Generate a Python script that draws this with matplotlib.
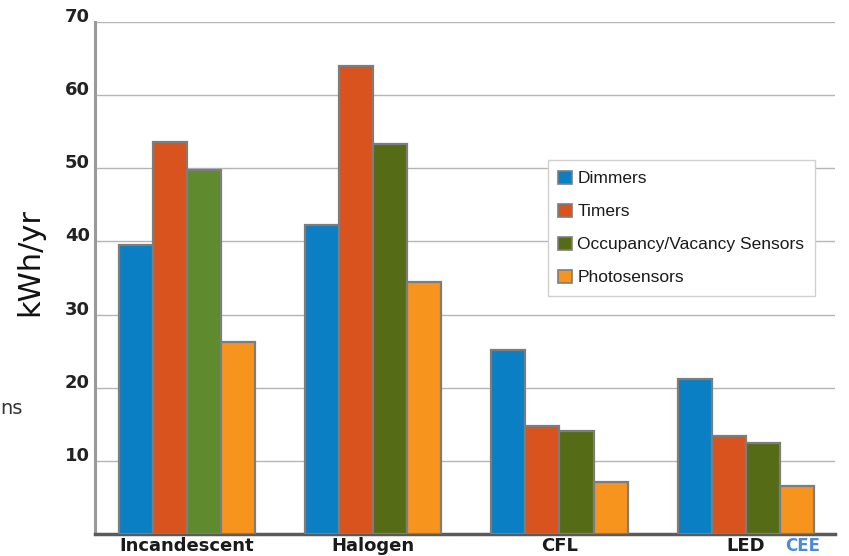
import numpy as np
import matplotlib.pyplot as plt
from matplotlib.patches import Patch
from matplotlib.transforms import offset_copy, blended_transform_factory

categories = ["Incandescent", "Halogen", "CFL", "LED"]
series = ["Dimmers", "Timers", "Occupancy/Vacancy Sensors", "Photosensors"]
dimmers = [39.5, 42.2, 25.1, 21.2]
timers = [53.6, 64.0, 14.8, 13.4]
occupancy = [49.7, 53.3, 14.1, 12.5]
photosensors = [26.2, 34.5, 7.1, 6.6]
yticks = [10, 20, 30, 40, 50, 60, 70]

colors = ["#0b7fc3", "#d9531e", "#566b16", "#f7941d"]
# the incandescent occupancy bar is a lighter green in the original
occ_colors = ["#5f8a2d", "#566b16", "#566b16", "#566b16"]
edge = "#7d7d7d"

fig = plt.figure(figsize=(8.49, 5.56), dpi=100)
ax = fig.add_axes([95 / 849, 22 / 556, 740 / 849, 512 / 556])

x = np.arange(len(categories))
w = 34 / 186
values = [dimmers, timers, occupancy, photosensors]
for i, vals in enumerate(values):
    pos = x - 1.5 * w + i * w
    c = occ_colors if i == 2 else colors[i]
    ax.bar(pos, vals, width=w, color=c, edgecolor=edge, linewidth=1.6, zorder=3)

ax.set_xlim(-0.495, 3.48)
ax.set_ylim(0, 70)
ax.set_yticks(yticks)
ax.set_yticklabels([])
ax.set_xticks([])
ax.tick_params(length=0)
ax.grid(axis="y", color="#b5b5b5", linewidth=1.0, zorder=0)
ax.set_axisbelow(True)

for s in ["top", "right"]:
    ax.spines[s].set_visible(False)
ax.spines["left"].set_color("#9a9a9a")
ax.spines["left"].set_linewidth(2.2)
ax.spines["bottom"].set_color("#5a5a5a")
ax.spines["bottom"].set_linewidth(2.5)

# y tick labels sit slightly above their gridlines
lab_tr = offset_copy(ax.get_yaxis_transform(), fig=fig, x=-5, y=5, units="dots")
for t in yticks:
    ax.text(0, t, str(t), transform=lab_tr, ha="right", va="center",
            fontsize=13, fontweight="bold", color="#222222")

# category names squeezed into the strip under the axis
cat_tr = blended_transform_factory(ax.transData, fig.transFigure)
for xi, name in zip(x, categories):
    ax.text(xi, 1 / 556, name, transform=cat_tr, ha="center", va="bottom",
            fontsize=13, fontweight="bold", color="#1a1a1a")

fig.text(30 / 849, 1 - 262 / 556, "kWh/yr", rotation=90, ha="center", va="center",
         fontsize=22, color="#111111")
fig.text(0, 1 - 408 / 556, "ns", ha="left", va="center", fontsize=14, color="#333333")
fig.text(785 / 849, 1 / 556, "CEE", ha="left", va="bottom", fontsize=12,
         fontweight="bold", color="#4d8ad6")

handles = [Patch(facecolor=c, edgecolor=edge, linewidth=1.2) for c in colors]
leg = ax.legend(handles, series, loc="upper left", bbox_to_anchor=(0.612, 0.73),
                borderaxespad=0, frameon=True, fancybox=False, framealpha=1,
                edgecolor="#d0d0d0", handlelength=0.8, handleheight=0.8,
                handletextpad=0.3, labelspacing=1.0, borderpad=0.6,
                prop={"family": ["Liberation Sans", "DejaVu Sans"], "size": 12.5})
for t in leg.get_texts():
    t.set_color("#1a1a1a")

fig.savefig("out.png", dpi=100)
